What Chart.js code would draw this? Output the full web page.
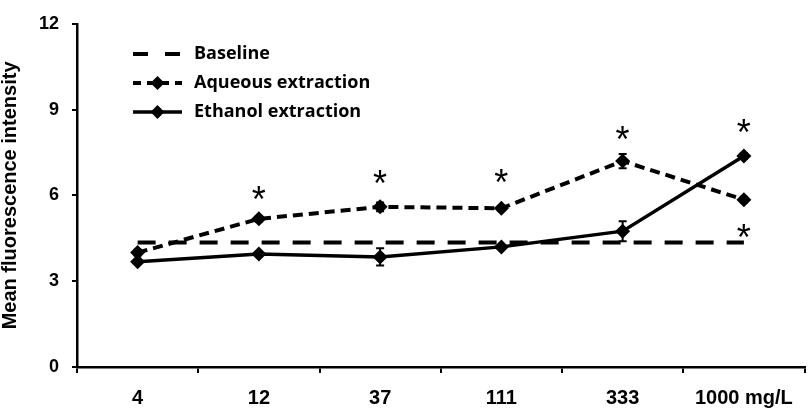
<!DOCTYPE html>
<html>
<head>
<meta charset="utf-8">
<script src="https://cdn.jsdelivr.net/npm/chart.js@4.4.1/dist/chart.umd.min.js"></script>
<style>
html,body{margin:0;padding:0;background:#fff;}
#wrap{width:812px;height:409px;position:relative;}
</style>
</head>
<body>
<div id="wrap"><canvas id="c" width="812" height="409"></canvas></div>
<script>
// ---- data ----
const categories = ['4', '12', '37', '111', '333', '1000 mg/L'];
const baseline = [4.35, 4.35, 4.35, 4.35, 4.35, 4.35];
const aqueous = [4.0, 5.18, 5.6, 5.55, 7.2, 5.85];
const aqueousErr = [0.1, 0.1, 0.15, 0.08, 0.25, 0.1];
const ethanol = [3.68, 3.95, 3.85, 4.2, 4.75, 7.38];
const ethanolErr = [0.05, 0.08, 0.3, 0.05, 0.35, 0.1];
const starCategories = ['12', '37', '111', '333', '1000 mg/L', '1000 mg/L'];
const starValues = [6.1, 6.63, 6.67, 8.17, 8.42, 4.77];
const yTicks = [0, 3, 6, 9, 12];
const seriesNames = ['Baseline', 'Aqueous extraction', 'Ethanol extraction'];

const TICK_FONT = "Liberation Sans";
const LEG_FONT = "Open Sans";

const errorBars = {
  id: 'errorBars',
  afterDatasetsDraw(chart) {
    const ctx = chart.ctx;
    const y = chart.scales.y;
    const sets = [[1, aqueousErr], [2, ethanolErr]];
    ctx.save();
    ctx.strokeStyle = '#000';
    ctx.lineWidth = 2;
    sets.forEach(([di, errs]) => {
      const meta = chart.getDatasetMeta(di);
      meta.data.forEach((pt, i) => {
        const v = chart.data.datasets[di].data[i];
        const e = errs[i];
        const yt = y.getPixelForValue(v + e), yb = y.getPixelForValue(v - e);
        ctx.beginPath();
        ctx.moveTo(pt.x, yt); ctx.lineTo(pt.x, yb);
        ctx.moveTo(pt.x - 4, yt); ctx.lineTo(pt.x + 4, yt);
        ctx.moveTo(pt.x - 4, yb); ctx.lineTo(pt.x + 4, yb);
        ctx.stroke();
      });
    });
    ctx.restore();
  }
};

const stars = {
  id: 'stars',
  afterDatasetsDraw(chart) {
    const ctx = chart.ctx;
    const x = chart.scales.x, y = chart.scales.y;
    ctx.save();
    ctx.fillStyle = '#000';
    ctx.font = "36px '" + TICK_FONT + "', Arial, sans-serif";
    ctx.textAlign = 'center';
    ctx.textBaseline = 'alphabetic';
    const m = ctx.measureText('*');
    const mid = (m.actualBoundingBoxAscent - m.actualBoundingBoxDescent) / 2;
    starCategories.forEach((c, i) => {
      const px = x.getPixelForValue(categories.indexOf(c));
      const py = y.getPixelForValue(starValues[i]);
      ctx.fillText('*', px, py + mid);
    });
    ctx.restore();
  }
};

const customLegend = {
  id: 'customLegend',
  afterDraw(chart) {
    const ctx = chart.ctx;
    const x0 = 133, x1 = 182, tx = 194;
    const rows = [54, 83, 112];
    ctx.save();
    chart.data.datasets.forEach((ds, i) => {
      const yy = rows[i];
      ctx.strokeStyle = '#000';
      ctx.lineWidth = ds.borderWidth;
      if (i === 0) ctx.setLineDash([15, 17]);
      else if (i === 1) ctx.setLineDash([8, 6]);
      else ctx.setLineDash([]);
      ctx.beginPath(); ctx.moveTo(x0, yy); ctx.lineTo(x1, yy); ctx.stroke();
      ctx.setLineDash([]);
      if (ds.pointRadius > 0) {
        const r = 7, cx = (x0 + x1) / 2;
        ctx.fillStyle = '#000';
        ctx.beginPath();
        ctx.moveTo(cx, yy - r); ctx.lineTo(cx + r, yy); ctx.lineTo(cx, yy + r); ctx.lineTo(cx - r, yy);
        ctx.closePath(); ctx.fill();
      }
      ctx.fillStyle = '#000';
      ctx.font = "bold 18px '" + LEG_FONT + "', sans-serif";
      ctx.textAlign = 'left';
      ctx.textBaseline = 'middle';
      ctx.fillText(ds.label, tx, yy);
    });
    ctx.restore();
  }
};

new Chart(document.getElementById('c'), {
  type: 'line',
  data: {
    labels: categories,
    datasets: [
      { label: seriesNames[0], data: baseline, borderColor: '#000', borderWidth: 4,
        borderDash: [18, 13], pointRadius: 0, fill: false, tension: 0 },
      { label: seriesNames[1], data: aqueous, borderColor: '#000', borderWidth: 4,
        borderDash: [10, 6], pointStyle: 'rectRot', pointRadius: 7.5, pointBackgroundColor: '#000',
        pointBorderColor: '#000', pointBorderWidth: 0, fill: false, tension: 0 },
      { label: seriesNames[2], data: ethanol, borderColor: '#000', borderWidth: 3.5,
        pointStyle: 'rectRot', pointRadius: 7.5, pointBackgroundColor: '#000',
        pointBorderColor: '#000', pointBorderWidth: 0, fill: false, tension: 0 }
    ]
  },
  options: {
    responsive: false,
    animation: false,
    devicePixelRatio: 1,
    layout: { padding: { left: 0, right: 2, top: 11, bottom: 0 } },
    plugins: { legend: { display: false }, tooltip: { enabled: false } },
    scales: {
      x: {
        type: 'category',
        offset: true,
        grid: { offset: true, drawOnChartArea: false, drawTicks: true, tickLength: 6, color: '#000', lineWidth: 2 },
        border: { display: true, color: '#000', width: 2.5 },
        ticks: { color: '#000', font: { family: TICK_FONT, size: 20, weight: 'bold' }, padding: 13, maxRotation: 0, autoSkip: false },
        afterFit(s) { s.height = 42; }
      },
      y: {
        min: 0, max: 12,
        afterBuildTicks(s) { s.ticks = yTicks.map(v => ({ value: v })); },
        grid: { drawOnChartArea: false, drawTicks: true, tickLength: 5, color: '#000', lineWidth: 2 },
        border: { display: true, color: '#000', width: 2.5 },
        ticks: { color: '#000', font: { family: TICK_FONT, size: 18, weight: 'bold' }, padding: 13 },
        title: { display: true, text: 'Mean fluorescence intensity', color: '#000',
          font: { family: TICK_FONT, size: 20, weight: 'bold', lineHeight: 1 }, padding: { top: 0, bottom: 0 } },
        afterFit(s) { s.width = 77; }
      }
    }
  },
  plugins: [errorBars, stars, customLegend]
});
</script>
</body>
</html>
